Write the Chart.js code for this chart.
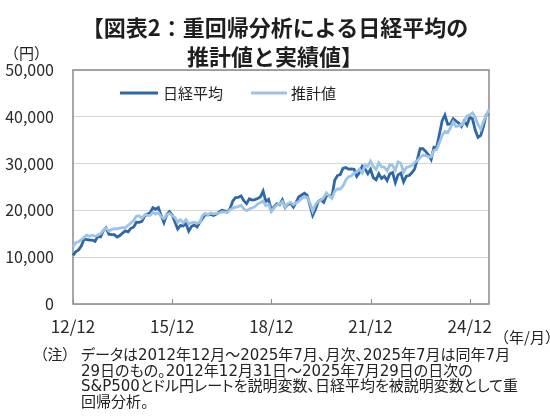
<!DOCTYPE html>
<html lang="ja">
<head>
<meta charset="utf-8">
<script src="https://cdn.jsdelivr.net/npm/chart.js@4"></script>
<style>
  body { margin: 0; background: #fff; font-family: "Noto Sans CJK JP", sans-serif; color: #222; }
  #wrap { position: relative; width: 550px; height: 420px; overflow: hidden; }
  #wrap canvas { position: absolute; left: 0; top: 0; }
  .txt { position: absolute; white-space: nowrap; line-height: 1; }
  .title { font-weight: bold; font-size: 22px; left: 0; width: 550px; text-align: center; color: #1e1e1e; }
  .note { font-family: "DejaVu Sans", "Noto Sans CJK JP", sans-serif; font-size: 15px; color: #222; font-feature-settings: "palt"; }
</style>
</head>
<body>
<div id="wrap">
  <canvas id="chart"></canvas>
  <div class="txt title" style="top:15px">【図表2：重回帰分析による日経平均の</div>
  <div class="txt title" style="top:44px">推計値と実績値】</div>
  <div class="txt" style="left:4px; top:45px; font-size:15px;">（円）</div>
  <div class="txt" style="left:494px; top:329px; font-size:15px;">（年/月）</div>
  <div class="txt note" style="left:40px; top:348px;">（注）</div>
  <div class="txt note" style="left:81px; top:348px;">データは2012年12月～2025年7月、月次、2025年7月は同年7月</div>
  <div class="txt note" style="left:81px; top:364px;">29日のもの。2012年12月31日～2025年7月29日の日次の</div>
  <div class="txt note" style="left:81px; top:379px;">S&amp;P500とドル円レートを説明変数、日経平均を被説明変数として重</div>
  <div class="txt note" style="left:81px; top:395px;">回帰分析。</div>
</div>
<script>
// monthly, 2012/12 - 2025/7
const startYear = 2012;
const startMonth = 12;
const monthCount = 152;

const tickLabels = ["12/12", "15/12", "18/12", "21/12", "24/12"];
const yTicks = [0, 10000, 20000, 30000, 40000, 50000];

const seriesNames = ["日経平均", "推計値"];

// 日経平均 (actual)
const nikkei = [10395,
  11139, 11559, 12398, 13861, 13775, 13677, 13668, 13389, 14456, 14328, 15662, 16291,
  14915, 14841, 14828, 14304, 14632, 15162, 15621, 15425, 16174, 16414, 17460, 17451,
  17674, 18798, 19207, 19520, 20563, 20236, 20585, 18890, 17388, 19083, 19747, 19034,
  17518, 16027, 16759, 16666, 17235, 15576, 16569, 16887, 16450, 17425, 18308, 19114,
  19041, 19119, 18909, 19197, 19651, 20033, 19925, 19646, 20356, 22012, 22725, 22765,
  23098, 22068, 21454, 22468, 22202, 22305, 22554, 22865, 24120, 21920, 22351, 20015,
  20773, 21385, 21206, 22259, 20601, 21276, 21522, 20704, 21756, 22927, 23294, 23657,
  23205, 21143, 18917, 20194, 21878, 22288, 21710, 23140, 23185, 22977, 26434, 27444,
  27663, 28966, 29179, 28813, 28860, 28792, 27284, 28090, 29453, 28893, 27822, 28792,
  27002, 26527, 27821, 26848, 27280, 26393, 27802, 28092, 25937, 27587, 27969, 26095,
  27327, 27446, 28041, 28856, 30888, 33189, 33172, 32619, 31858, 30859, 33487, 33464,
  36287, 39166, 40369, 38406, 38488, 39583, 39102, 38648, 37920, 39081, 38208, 39895,
  39572, 37156, 35618, 36045, 37965, 40487, 40675];

// 推計値 (regression estimate)
const estimate = [12200,
  13120, 13300, 13730, 14240, 14730, 14460, 14680, 14470, 14690, 15050, 15730, 16260,
  15580, 15900, 16120, 16060, 16200, 16300, 16340, 16820, 17310, 17820, 18770, 18870,
  18320, 19050, 18940, 18940, 19580, 19200, 19540, 18640, 18250, 19050, 19340, 18860,
  18470, 17480, 18020, 17350, 18000, 17140, 17360, 17490, 17240, 17450, 18890, 19350,
  19060, 19430, 19270, 19380, 19420, 19660, 19630, 19600, 20100, 20490, 20680, 20820,
  21090, 20310, 19940, 20310, 20510, 20790, 21360, 21650, 22020, 21020, 21300, 19730,
  20520, 21170, 21330, 21900, 20670, 21470, 21730, 21220, 21660, 21920, 22560, 22860,
  22810, 21550, 19820, 21260, 21920, 22190, 22730, 23760, 23100, 22590, 24120, 24610,
  24580, 25240, 26440, 27210, 27350, 27950, 28220, 28830, 28010, 29660, 29400, 30510,
  29390, 28740, 30210, 29340, 29220, 28460, 29720, 29590, 28600, 30340, 30050, 28180,
  29130, 29350, 29580, 30260, 30650, 31300, 31800, 31700, 31500, 31400, 32800, 33000,
  34530, 35990, 36860, 36620, 37650, 38890, 37920, 38050, 38260, 38970, 40190, 40360,
  40850, 39930, 38310, 37340, 38980, 40300, 41560];

const months = [];
for (let i = 0; i < monthCount; i++) {
  const m = startMonth - 1 + i;
  const y = startYear + Math.floor(m / 12);
  months.push(String(y % 100).padStart(2, "0") + "/" + String((m % 12) + 1).padStart(2, "0"));
}

const DARK = "#2e67a5";
const LIGHT = "#9dc3e6";
const FRAME = "#8a8a8a";

Chart.defaults.font.family = "'Noto Sans CJK JP', sans-serif";
Chart.defaults.color = "#2a2a2a";

// frame, small inner tick marks and the in-plot legend
const decorations = {
  id: "decorations",
  beforeDatasetsDraw(chart) {
    const { ctx, chartArea: a, scales: { x } } = chart;
    ctx.save();
    ctx.strokeStyle = FRAME;
    ctx.lineWidth = 1.5;
    ctx.strokeRect(a.left, a.top, a.right - a.left, a.bottom - a.top);
    ctx.lineWidth = 1;
    months.forEach((m, i) => {
      if (!tickLabels.includes(m)) return;
      const px = Math.round(x.getPixelForValue(i)) + 0.5;
      ctx.beginPath();
      ctx.moveTo(px, a.bottom);
      ctx.lineTo(px, a.bottom - 5);
      ctx.stroke();
    });
    ctx.restore();
  },
  afterDatasetsDraw(chart) {
    const { ctx } = chart;
    const items = [
      { x: 120, w: 38, tx: 163 },
      { x: 251, w: 36, tx: 291 },
    ];
    ctx.save();
    ctx.font = "15px 'Noto Sans CJK JP', sans-serif";
    ctx.textBaseline = "middle";
    ctx.fillStyle = "#222";
    chart.data.datasets.forEach((ds, i) => {
      const it = items[i];
      ctx.strokeStyle = ds.borderColor;
      ctx.lineWidth = 3;
      ctx.beginPath();
      ctx.moveTo(it.x, 93);
      ctx.lineTo(it.x + it.w, 93);
      ctx.stroke();
      ctx.fillText(ds.label, it.tx, 93);
    });
    ctx.restore();
  },
};

new Chart(document.getElementById("chart"), {
  type: "line",
  data: {
    labels: months,
    datasets: [
      {
        label: seriesNames[0],
        data: nikkei,
        borderColor: DARK,
        borderWidth: 2.8,
        pointRadius: 0,
        tension: 0,
        order: 2,
      },
      {
        label: seriesNames[1],
        data: estimate,
        borderColor: LIGHT,
        borderWidth: 2.8,
        pointRadius: 0,
        tension: 0,
        order: 1,
      },
    ],
  },
  options: {
    responsive: true,
    maintainAspectRatio: false,
    animation: false,
    events: [],
    layout: { padding: { top: 70, right: 61, left: 0, bottom: 0 } },
    plugins: {
      legend: { display: false },
      tooltip: { enabled: false },
    },
    scales: {
      x: {
        grid: { display: false, drawTicks: false },
        border: { display: false },
        afterFit: (scale) => { scale.height = 116; },
        ticks: {
          autoSkip: false,
          maxRotation: 0,
          minRotation: 0,
          padding: 12,
          font: { size: 17 },
          callback(value) {
            const l = this.getLabelForValue(value);
            return tickLabels.includes(l) ? l : "";
          },
        },
      },
      y: {
        min: yTicks[0],
        max: yTicks[yTicks.length - 1],
        afterFit: (scale) => { scale.width = 73; },
        grid: { color: "#d6d6d6", lineWidth: 1, drawTicks: false },
        border: { display: false },
        ticks: {
          stepSize: 10000,
          padding: 19,
          font: { size: 16 },
          callback: (v) => v.toLocaleString("en-US"),
        },
      },
    },
  },
  plugins: [decorations],
});
</script>
</body>
</html>
